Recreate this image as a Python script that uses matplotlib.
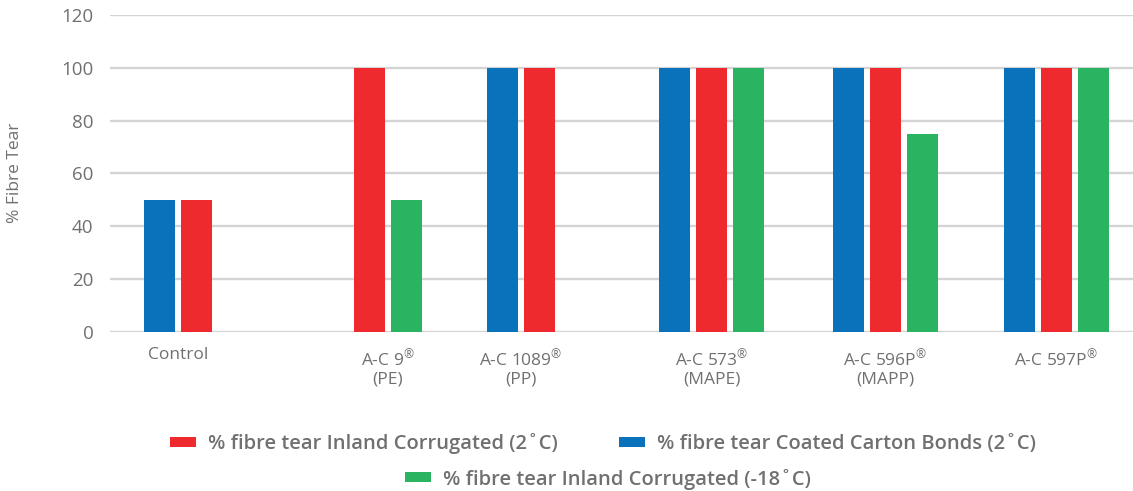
import numpy as np
import matplotlib
matplotlib.use("Agg")
import matplotlib.pyplot as plt

# ---- data ----
categories = ["Control", "A-C 9$^{®}$\n(PE)", "A-C 1089$^{®}$\n(PP)",
              "A-C 573$^{®}$\n(MAPE)", "A-C 596P$^{®}$\n(MAPP)", "A-C 597P$^{®}$"]
coated_carton_2c = [50, None, 100, 100, 100, 100]
inland_corr_2c = [50, 100, 100, 100, 100, 100]
inland_corr_m18c = [None, 50, None, 100, 75, 100]
y_ticks = [0, 20, 40, 60, 80, 100, 120]

series_labels = ["% fibre tear Coated Carton Bonds (2˚C)",
                 "% fibre tear Inland Corrugated (2˚C)",
                 "% fibre tear Inland Corrugated (-18˚C)"]

# ---- layout / style ----
group_centers = [178, 387.5, 521, 711.5, 885, 1056]   # horizontal layout (px units)
bar_w = 31
bar_step = 37
colors = ["#0A72BA", "#EE2A2F", "#2AB462"]
text_grey = "#707070"

plt.rcParams['font.family'] = ['Open Sans', 'DejaVu Sans']
plt.rcParams['mathtext.fontset'] = 'custom'
plt.rcParams['mathtext.rm'] = 'Open Sans'
plt.rcParams['mathtext.default'] = 'regular'

fig = plt.figure(figsize=(11.33, 4.91), dpi=100)
ax = fig.add_axes([110 / 1133, 159 / 491, 1023 / 1133, 317 / 491])

series = [coated_carton_2c, inland_corr_2c, inland_corr_m18c]
handles = [None, None, None]
for gi, c in enumerate(group_centers):
    present = [si for si in range(3) if series[si][gi] is not None]
    n = len(present)
    for k, si in enumerate(present):
        x = c + (k - (n - 1) / 2) * bar_step
        b = ax.bar(x, series[si][gi], width=bar_w, color=colors[si], zorder=3,
                   label=series_labels[si])
        handles[si] = b

ax.set_xlim(110, 1133)
ax.set_ylim(0, 120)
ax.set_yticks(y_ticks)
ax.set_xticks(group_centers)
ax.set_xticklabels(categories, linespacing=1.2)
ax.grid(axis='y', color='#D4D4D4', linewidth=1.7, zorder=0)
ax.set_axisbelow(True)
for s in ax.spines.values():
    s.set_visible(False)
ax.tick_params(axis='both', length=0, colors=text_grey)
ax.tick_params(axis='y', labelsize=13.5, pad=12)
ax.tick_params(axis='x', labelsize=12.5, pad=11)
fig.text(15 / 1133, (491 - 173) / 491, "% Fibre Tear", fontsize=12.5, color=text_grey,
         rotation=90, ha='center', va='center')

leg_kw = dict(frameon=False, loc='center', handlelength=1.3, handleheight=0.4,
              handletextpad=0.6, borderpad=0, borderaxespad=0,
              prop={'size': 14.5, 'weight': 'semibold'}, labelcolor=text_grey)
leg1 = fig.legend([handles[1], handles[0]], [series_labels[1], series_labels[0]],
                  ncol=2, columnspacing=3.0, bbox_to_anchor=(603 / 1133, 47 / 491), **leg_kw)
leg2 = fig.legend([handles[2]], [series_labels[2]],
                  bbox_to_anchor=(608 / 1133, 12 / 491), **leg_kw)

fig.savefig("out.png", dpi=100)
